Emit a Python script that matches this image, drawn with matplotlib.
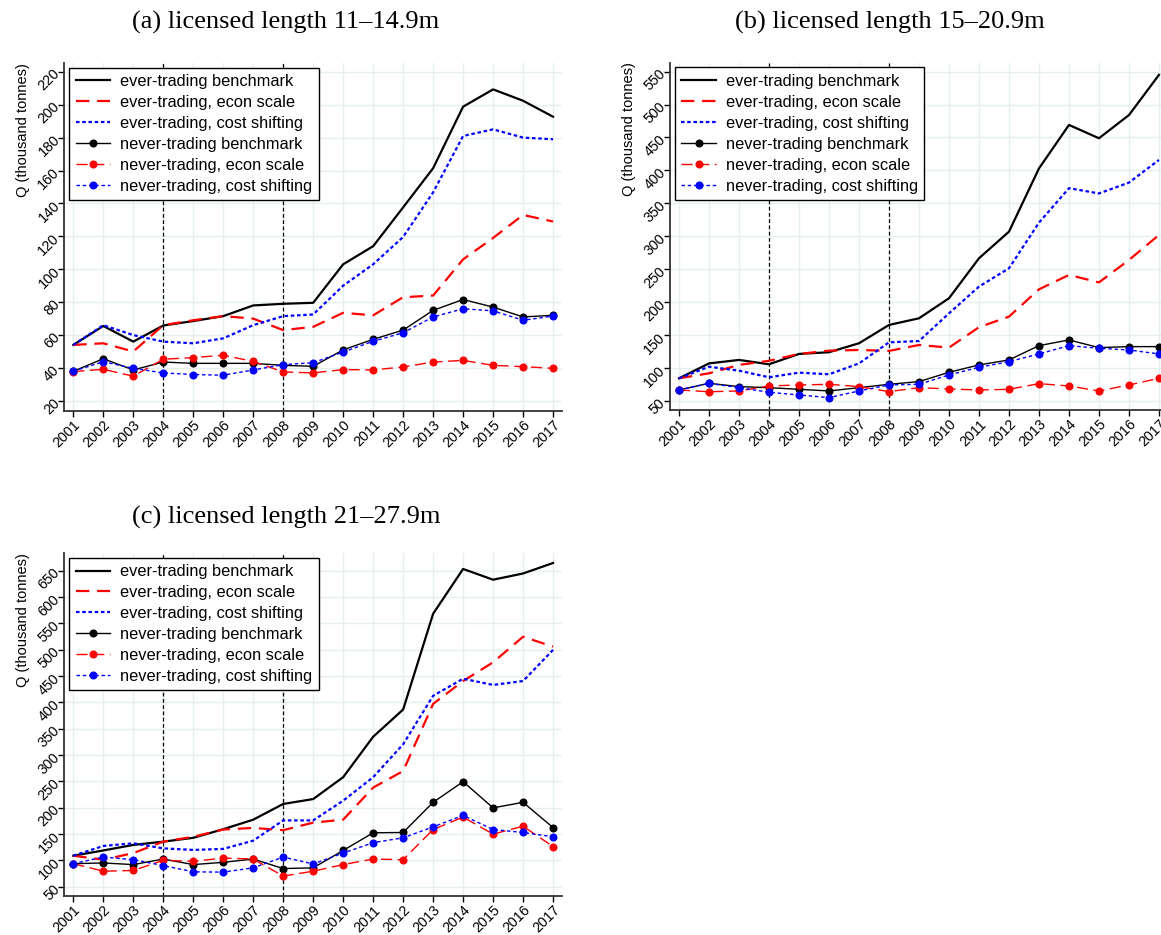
import matplotlib
matplotlib.use("Agg")
import matplotlib.pyplot as plt

# years on the x axis
years = list(range(2001, 2018))

# (a) licensed length 11-14.9m
a_ever_bench = [54, 65.5, 56, 65.8, 68.5, 71.5, 78, 79, 79.6, 103, 114, 137.6, 161.4, 198.8, 209.3, 202.4, 192.7]
a_ever_econ = [54, 55, 50, 66, 69, 71.5, 70, 63, 65, 73.5, 72, 83, 84, 106, 119, 133, 129]
a_ever_cost = [54, 66, 60, 56, 55, 58, 66, 71.5, 72.5, 90, 103, 119.6, 146.7, 181, 185, 180, 179]
a_never_bench = [38, 45.6, 38.8, 43.6, 42.8, 42.8, 42.8, 41.6, 41, 51, 57.4, 63, 75, 81.6, 77, 71, 72]
a_never_econ = [37.8, 39.2, 35, 45.3, 46.3, 47.7, 44, 37.6, 37, 39, 38.8, 40.6, 43.6, 44.6, 41.6, 40.8, 39.8]
a_never_cost = [38, 43.8, 39.8, 37, 36, 35.6, 38.8, 42, 43.2, 49.7, 56.2, 61.4, 71, 76, 74.7, 69, 71.5]

# (b) licensed length 15-20.9m
b_ever_bench = [84.4, 107, 112.3, 105.7, 121.4, 124, 137.6, 165.4, 175.5, 205.9, 266.6, 307, 403, 469, 448.8, 484, 545]
b_ever_econ = [84.4, 92, 104.7, 111, 121.4, 126.4, 127.4, 126, 135, 131, 162, 178, 219.5, 241.3, 230, 264, 302]
b_ever_cost = [84.4, 102, 96, 86, 93, 90.5, 107, 139, 141, 183, 223.6, 251.4, 320.7, 373, 365, 381.5, 415.9]
b_never_bench = [66.7, 76.8, 71.8, 70.2, 67.7, 65.2, 70.2, 75.3, 79.4, 93.5, 104.7, 112.3, 134, 142.6, 131, 132.5, 132.5]
b_never_econ = [66.7, 64, 65.2, 72.8, 74.3, 75.3, 71.8, 64.2, 70.2, 68.2, 66.7, 67.7, 76.3, 72.8, 65.2, 74.3, 84.4]
b_never_cost = [66.7, 76.8, 70.2, 63.2, 59.1, 55.1, 65.2, 74.3, 75.3, 89.5, 101.1, 109.7, 121.4, 134, 130, 127.4, 121.4]

# (c) licensed length 21-27.9m
c_ever_bench = [109, 119, 129.5, 135.7, 143, 159.3, 177.4, 207.2, 216.5, 258, 334.7, 386.3, 568, 653, 632.6, 644.4, 664.3]
c_ever_econ = [109, 101.5, 114, 135.7, 145, 158.7, 161.8, 157.5, 171.8, 177.4, 238.3, 269.6, 397, 440.4, 475.9, 524.4, 505.7]
c_ever_cost = [109, 127.6, 132.6, 123, 120, 122, 137.6, 176, 176, 213.4, 258, 320.4, 412.4, 444.8, 433, 440.4, 499.5]
c_never_bench = [94, 95.3, 92.2, 102.7, 92.2, 96.5, 102.7, 84.7, 86, 119, 152.5, 153.1, 210.3, 249.5, 199.8, 210.3, 162.4]
c_never_econ = [94, 79.7, 81, 100.3, 98.4, 104.6, 102.7, 70.4, 79.7, 92.2, 102.7, 101.5, 158.7, 182.3, 150, 165, 126.4]
c_never_cost = [94, 106.5, 101.5, 90.3, 78.5, 77.9, 86, 106.5, 93.4, 114, 133.8, 143, 163.7, 185.5, 158.7, 153.1, 145]

labels = ["ever-trading benchmark", "ever-trading, econ scale", "ever-trading, cost shifting",
          "never-trading benchmark", "never-trading, econ scale", "never-trading, cost shifting"]

titles = ["(a) licensed length 11\u201314.9m", "(b) licensed length 15\u201320.9m", "(c) licensed length 21\u201327.9m"]

plt.rcParams['font.family'] = ['Liberation Sans', 'DejaVu Sans']

fig = plt.figure(figsize=(11.61, 9.35), dpi=100)


# Function to draw one panel
def draw_panel(ax, series, yticks, ylim):
    ever_bench, ever_econ, ever_cost, never_bench, never_econ, never_cost = series
    ax.plot(years, ever_bench, color='black', lw=1.6, ls='-', label=labels[0])
    ax.plot(years, ever_econ, color='red', lw=1.6, ls=(0, (6, 3.5)), label=labels[1])
    ax.plot(years, ever_cost, color='blue', lw=1.6, ls=(0, (1.6, 1.2)), label=labels[2])
    ax.plot(years, never_bench, color='black', lw=1.0, ls='-', marker='o', ms=4.8, label=labels[3])
    ax.plot(years, never_econ, color='red', lw=1.0, ls=(0, (8, 4)), marker='o', ms=4.8, label=labels[4])
    ax.plot(years, never_cost, color='blue', lw=1.0, ls=(0, (2.5, 2)), marker='o', ms=4.8, label=labels[5])

    # policy years
    for x in (2004, 2008):
        ax.axvline(x, color='black', lw=0.9, ls=(0, (3, 2)), zorder=1)

    ax.set_xlim(2000.7, 2017.3)
    ax.set_ylim(*ylim)
    ax.set_xticks(years)
    ax.set_xticklabels([str(y) for y in years], rotation=45, ha='right', rotation_mode='anchor')
    ax.set_yticks(yticks)
    ax.set_yticklabels([str(v) for v in yticks], rotation=45, ha='right', va='center', rotation_mode='anchor')
    ax.tick_params(labelsize=10.3, length=4, width=1, direction='out', pad=1)
    ax.grid(True, color='#e6efef', lw=1.0)
    ax.set_axisbelow(True)
    for side in ('top', 'right'):
        ax.spines[side].set_visible(False)
    for side in ('left', 'bottom'):
        ax.spines[side].set_linewidth(1.3)
        ax.spines[side].set_color('#333333')
    ax.set_ylabel("Q (thousand tonnes)", fontsize=10.5, loc='top', labelpad=4)
    leg = ax.legend(loc='upper left', fontsize=11.8, frameon=True, fancybox=False,
                    edgecolor='black', framealpha=1, numpoints=1, handlelength=2.1,
                    handletextpad=0.6, labelspacing=0.36, borderpad=0.4,
                    borderaxespad=0.3)
    leg.get_frame().set_linewidth(1.0)


ax_a = fig.add_axes([0.0554, 0.5607, 0.4287, 0.3722])
draw_panel(ax_a, [a_ever_bench, a_ever_econ, a_ever_cost, a_never_bench, a_never_econ, a_never_cost],
           list(range(20, 221, 20)), (14, 225.5))

ax_b = fig.add_axes([0.5771, 0.5615, 0.4289, 0.3716])
draw_panel(ax_b, [b_ever_bench, b_ever_econ, b_ever_cost, b_never_bench, b_never_econ, b_never_cost],
           list(range(50, 551, 50)), (36.3, 563.7))

ax_c = fig.add_axes([0.0554, 0.0417, 0.4287, 0.3671])
draw_panel(ax_c, [c_ever_bench, c_ever_econ, c_ever_cost, c_never_bench, c_never_econ, c_never_cost],
           list(range(50, 651, 50)), (32.6, 683.7))

# panel titles in a serif font
fig.text(286 / 1161, 1 - 22 / 935, titles[0], family='Liberation Serif', fontsize=19, ha='center', va='center')
fig.text(890 / 1161, 1 - 22 / 935, titles[1], family='Liberation Serif', fontsize=19, ha='center', va='center')
fig.text(286 / 1161, 1 - 517 / 935, titles[2], family='Liberation Serif', fontsize=19, ha='center', va='center')

fig.savefig("out.png", dpi=100)
